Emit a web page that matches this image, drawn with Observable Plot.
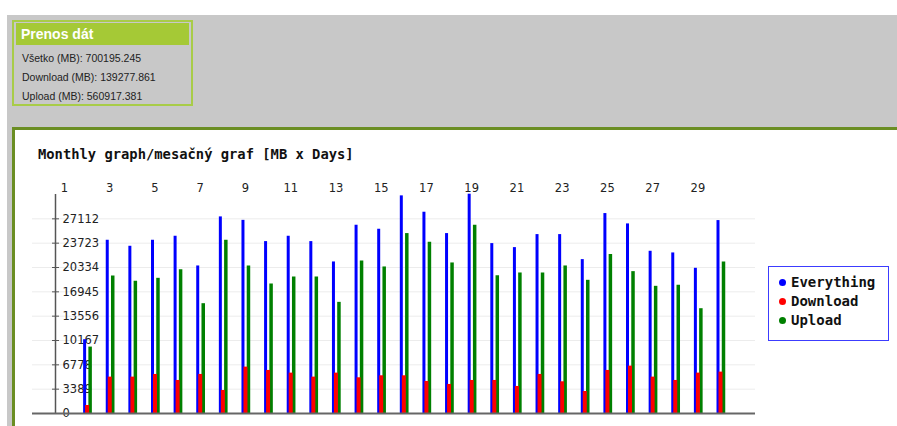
<!DOCTYPE html>
<html>
<head>
<meta charset="utf-8">
<script src="https://cdn.jsdelivr.net/npm/d3@7"></script>
<script src="https://cdn.jsdelivr.net/npm/@observablehq/plot@0.6"></script>
<style>
  html, body { margin: 0; padding: 0; }
  body { width: 897px; height: 426px; position: relative; overflow: hidden; background: #fff; font-family: "Liberation Sans", Arial, sans-serif; }
  .graybg { position: absolute; left: 7px; top: 15px; width: 890px; height: 112px; background: #c8c8c8; }
  .grayleft { position: absolute; left: 7px; top: 127px; width: 6px; height: 299px; background: #c8c8c8; }
  .panel { position: absolute; left: 12px; top: 127px; width: 885px; height: 299px; box-sizing: border-box; border-top: 3px solid #6b8e23; border-left: 3px solid #6b8e23; background: #fff; }
  .box { position: absolute; left: 12px; top: 20px; width: 181px; height: 86px; box-sizing: border-box; border: 2px solid #a8cc48; }
  .box .hdr { position: absolute; left: 2px; top: 1px; width: 173px; height: 22px; background: #a5c936; color: #fff; font-weight: bold; font-size: 14px; line-height: 22px; padding-left: 5px; box-sizing: border-box; }
  .box .row { position: absolute; left: 8px; font-size: 10.5px; color: #222; line-height: 14px; }
  .title { position: absolute; left: 38px; top: 146px; font-family: "DejaVu Sans Mono", monospace; font-weight: bold; font-size: 13.8px; color: #111; }
  #chart { position: absolute; left: 0; top: 170px; }
  .legend { position: absolute; left: 768px; top: 266px; width: 121px; height: 75px; box-sizing: border-box; border: 1.5px solid #3c3cff; background: #fff; }
  .legend .item { position: absolute; left: 22px; font-family: "DejaVu Sans Mono", monospace; font-weight: bold; font-size: 14px; color: #111; line-height: 16px; }
  .legend .dot { position: absolute; left: -12px; top: 5px; width: 7px; height: 7px; border-radius: 50%; }
</style>
</head>
<body>
<div class="graybg"></div>
<div class="grayleft"></div>
<div class="box">
  <div class="hdr">Prenos dát</div>
  <div class="row" id="r0" style="top:29px"></div>
  <div class="row" id="r1" style="top:48px"></div>
  <div class="row" id="r2" style="top:67px"></div>
</div>
<div class="panel"></div>
<div class="title">Monthly graph/mesačný graf [MB x Days]</div>
<div id="chart"></div>
<div class="legend" id="legend"></div>
<script>
// Summary
const summaryLabels = ["Všetko (MB): ", "Download (MB): ", "Upload (MB): "];
const summaryValues = ["700195.245", "139277.861", "560917.381"];

// Series (MB per day)
const days = [2, 3, 4, 5, 6, 7, 8, 9, 10, 11, 12, 13, 14, 15, 16, 17, 18, 19, 20, 21, 22, 23, 24, 25, 26, 27, 28, 29, 30];
const everything = [10279, 24128, 23291, 24128, 24686, 20548, 27382, 26900, 23942, 24686, 23942, 21107, 26220, 25662, 30311, 28033, 25058, 30544, 23663, 23105, 24918, 24918, 21432, 27847, 26406, 22594, 22362, 20223, 26870];
const download = [1116, 5067, 5067, 5439, 4602, 5439, 3208, 6462, 5997, 5625, 5067, 5625, 4974, 5253, 5253, 4463, 4045, 4602, 4602, 3766, 5439, 4417, 3068, 5997, 6601, 5067, 4602, 5625, 5764];
const upload = [9250, 19153, 18410, 18828, 20037, 15295, 24128, 20548, 18037, 19014, 19014, 15481, 21246, 20409, 25058, 23849, 20967, 26220, 19200, 19572, 19572, 20548, 18550, 22129, 19758, 17713, 17852, 14597, 21107];

// Ticks
const xLabels = [1, 3, 5, 7, 9, 11, 13, 15, 17, 19, 21, 23, 25, 27, 29];
const yTicks = [0, 3389, 6778, 10167, 13556, 16945, 20334, 23723, 27112];
const yMax = 30501;

// Legend
const seriesNames = ["Everything", "Download", "Upload"];
const seriesColors = ["#0000ff", "#ff0000", "#008000"];

summaryLabels.forEach((l, i) => { document.getElementById("r" + i).textContent = l + summaryValues[i]; });

const legend = document.getElementById("legend");
seriesNames.forEach((n, i) => {
  const it = document.createElement("div");
  it.className = "item";
  it.style.top = (7 + i * 19) + "px";
  const dot = document.createElement("span");
  dot.className = "dot";
  dot.style.background = seriesColors[i];
  it.appendChild(dot);
  it.appendChild(document.createTextNode(n));
  legend.appendChild(it);
});

const rows = days.map((d, i) => ({day: d, everything: everything[i], download: download[i], upload: upload[i]}));

const chart = Plot.plot({
  width: 760,
  height: 256,
  marginLeft: 32,
  marginRight: 5,
  marginTop: 24,
  marginBottom: 13,
  style: {background: "transparent", fontFamily: "DejaVu Sans", fontSize: "11.5px", color: "#222", overflow: "visible"},
  x: {type: "linear", domain: [1, 30], range: [64, 720]},
  y: {domain: [0, yMax]},
  marks: [
    Plot.gridY(yTicks, {stroke: "#ececec", strokeOpacity: 1}),
    Plot.axisX({anchor: "top", ticks: xLabels, tickSize: 0, tickPadding: 3, label: null, fill: "#222"}),
    Plot.axisY({anchor: "left", ticks: yTicks, tickSize: 7, dx: 27, tickFormat: () => "", label: null, stroke: "#555"}),
    Plot.text(yTicks, {y: d => d, text: d => String(d), frameAnchor: "left", dx: 30, textAnchor: "start", fill: "#222"}),
    Plot.ruleX([1], {dx: -9, stroke: "#555", strokeWidth: 1.5}),
    Plot.ruleX(rows, {x: "day", y1: 0, y2: "everything", stroke: seriesColors[0], strokeWidth: 3, dx: -2.5}),
    Plot.ruleX(rows, {x: "day", y1: 0, y2: "upload", stroke: seriesColors[2], strokeWidth: 3.5, dx: 3}),
    Plot.ruleX(rows, {x: "day", y1: 0, y2: "download", stroke: seriesColors[1], strokeWidth: 4, dx: 0}),
    Plot.ruleY([0], {stroke: "#666", strokeWidth: 2})
  ]
});
document.getElementById("chart").appendChild(chart);
</script>
</body>
</html>
